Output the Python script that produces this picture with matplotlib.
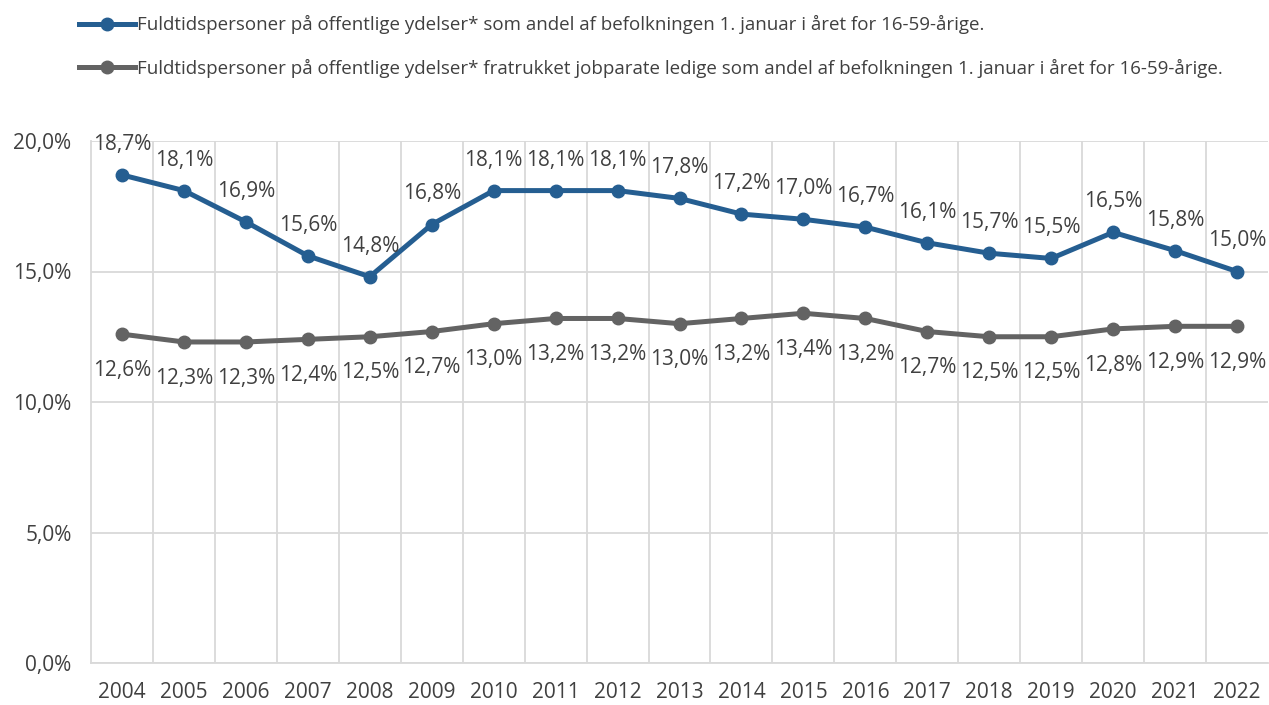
import matplotlib.pyplot as plt
from matplotlib.lines import Line2D

years = [str(y) for y in range(2004, 2023)]
andel = [18.7, 18.1, 16.9, 15.6, 14.8, 16.8, 18.1, 18.1, 18.1, 17.8,
         17.2, 17.0, 16.7, 16.1, 15.7, 15.5, 16.5, 15.8, 15.0]
fratrukket = [12.6, 12.3, 12.3, 12.4, 12.5, 12.7, 13.0, 13.2, 13.2, 13.0,
              13.2, 13.4, 13.2, 12.7, 12.5, 12.5, 12.8, 12.9, 12.9]
y_ticks = [0, 5, 10, 15, 20]
series_names = [
    'Fuldtidspersoner på offentlige ydelser* som andel af befolkningen 1. januar i året for 16-59-årige.',
    'Fuldtidspersoner på offentlige ydelser* fratrukket jobparate ledige som andel af befolkningen 1. januar i året for 16-59-årige.',
]

blue = '#255E91'
grey = '#636363'
txt = '#404040'
grid = '#D9D9D9'

plt.rcParams['font.family'] = ['Open Sans', 'DejaVu Sans']

fig = plt.figure(figsize=(12.69, 7.05), dpi=100)
ax = fig.add_axes([91 / 1269, 1 - 663 / 705, (1268 - 91) / 1269, (663 - 141) / 705])

x = list(range(len(years)))
ax.plot(x, andel, color=blue, lw=3.6, marker='o', ms=9, zorder=3, clip_on=False)
ax.plot(x, fratrukket, color=grey, lw=3.6, marker='o', ms=9, zorder=3, clip_on=False)

def fmt(v):
    return f'{v:.1f}%'.replace('.', ',')

for i, v in enumerate(andel):
    ax.annotate(fmt(v), (i, v), xytext=(0, 22), textcoords='offset points',
                ha='center', va='center', fontsize=15, color=txt)
for i, v in enumerate(fratrukket):
    ax.annotate(fmt(v), (i, v), xytext=(0, -26), textcoords='offset points',
                ha='center', va='center', fontsize=15, color=txt)

ax.set_xlim(-0.5, len(years) - 0.5)
ax.set_ylim(0, 20)
ax.set_xticks(x)
ax.set_xticklabels(years)
ax.set_xticks([i + 0.5 for i in x[:-1]], minor=True)
ax.set_yticks(y_ticks)
ax.set_yticklabels([fmt(t) for t in y_ticks])
ax.tick_params(axis='both', length=0, labelsize=15, colors=txt)
ax.tick_params(axis='x', pad=14)
ax.tick_params(axis='y', pad=14)
ax.tick_params(which='minor', length=0)
ax.grid(axis='y', which='major', color=grid, lw=1.3)
ax.grid(axis='x', which='minor', color=grid, lw=1.3)
for s in ['top', 'right']:
    ax.spines[s].set_visible(False)
ax.spines['left'].set_color(grid)
ax.spines['bottom'].set_color(grid)
ax.spines['left'].set_linewidth(1.3)
ax.spines['bottom'].set_linewidth(1.3)
ax.set_axisbelow(True)

handles = [Line2D([], [], color=blue, lw=3.6, marker='o', ms=9),
           Line2D([], [], color=grey, lw=3.6, marker='o', ms=9)]
fig.legend(handles, series_names, loc='upper left', bbox_to_anchor=(62 / 1269, 1.002),
           frameon=False, fontsize=13.5, labelcolor=txt, handlelength=3.0,
           handletextpad=0.1, labelspacing=1.3)

fig.savefig('out.png', dpi=100)
